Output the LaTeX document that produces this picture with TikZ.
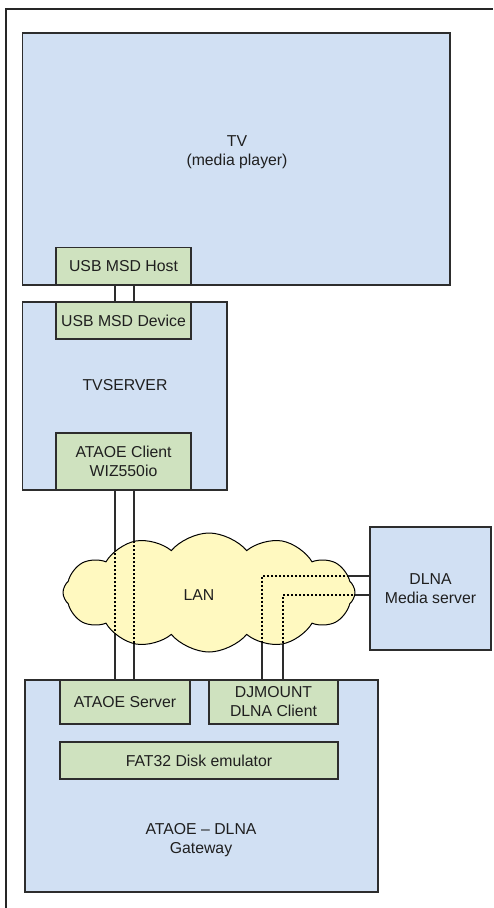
\documentclass[tikz,border=0pt]{standalone}
\usepackage{fontspec}
\setmainfont{Liberation Sans}
\usepackage{tikz}
\usetikzlibrary{shapes.symbols,calc,positioning}
\definecolor{BlokFon}{RGB}{209,224,243}
\definecolor{ModulFon}{RGB}{207,226,191}
\definecolor{OblakoFon}{RGB}{255,249,192}
\definecolor{Kontur}{RGB}{45,45,45}
\begin{document}
\begin{tikzpicture}[x=1pt,y=-1pt,
    every node/.style={font=\fontsize{15.8}{19}\selectfont,text=black!88,align=center},
    blok/.style={draw=Kontur,fill=BlokFon,line width=1.2pt,inner sep=0pt},
    modul/.style={draw=Kontur,fill=ModulFon,line width=1.2pt,inner sep=0pt,minimum height=37pt},
    svyaz/.style={draw=Kontur,line width=1.2pt},
    punktir/.style={draw=black,line width=1.1pt,dash pattern=on 2pt off 2pt}]
    \useasboundingbox (0,0) rectangle (493,908);
    \draw [draw=black!85,line width=1.2pt] (6,908) -- (6,9) -- (493,9);
    % TV
    \node [blok,minimum width=427.5pt,minimum height=252pt] (TvBox) at (236.25,159) {};
    \node (TvText) at (237,152) {TV\\(media player)};
    \node [modul,minimum width=135pt,minimum height=37.5pt] (UsbHost) at (123.5,266.25) {USB MSD Host};
    % TVSERVER
    \node [blok,minimum width=204.5pt,minimum height=188pt] (ServerBox) at (124.75,396) {};
    \node (ServerText) at (125,385) {TVSERVER};
    \node [modul,minimum width=135pt] (UsbDevice) at (123.5,320.5) {USB MSD Device};
    \node [modul,minimum width=135pt,minimum height=57pt] (AtaoeClient) at (123.5,461.5) {ATAOE Client\\WIZ550io};
    % gateway
    \node [blok,minimum width=353pt,minimum height=212pt] (GatewayBox) at (201.5,786) {};
    \node (GatewayText) at (201,840) {ATAOE -- DLNA\\Gateway};
    \node [modul,minimum width=130pt,minimum height=44pt] (AtaoeServer) at (125,702) {ATAOE Server};
    \node [modul,minimum width=129pt,minimum height=44pt] (Djmount) at (273.5,702) {DJMOUNT\\DLNA Client};
    \node [modul,minimum width=278pt] (Fat32) at (199,760.5) {FAT32 Disk emulator};
    \node [blok,minimum width=121pt,minimum height=123pt] (DlnaServer) at (430.5,588.5) {DLNA\\Media server};
    % links
    \foreach \dx in {-8.5,10.5}
        \draw [svyaz] ([xshift=\dx pt]UsbHost.south) -- ([xshift=\dx pt]UsbDevice.north);
    \foreach \dx in {-10,9}
        \draw [svyaz] ([xshift=\dx pt]AtaoeServer.north) -- ([xshift=\dx pt]AtaoeServer.north |- AtaoeClient.south);
    \draw [svyaz] ([yshift=12.5pt]DlnaServer.west) -| ([xshift=-11.5pt]Djmount.north);
    \draw [svyaz] ([yshift=-6.5pt]DlnaServer.west) -| ([xshift=9.5pt]Djmount.north);
    % LAN cloud, links dotted inside
    \node [cloud,cloud puffs=12,cloud puff arc=100,cloud ignores aspect,
        draw=black,line width=1pt,fill=OblakoFon,inner sep=0pt,
        minimum width=292pt,minimum height=119pt,
        path picture={
            \foreach \dx in {-10,9}
                \draw [punktir] ([xshift=\dx pt]AtaoeServer.north) -- ([xshift=\dx pt]AtaoeServer.north |- AtaoeClient.south);
            \draw [punktir] ([yshift=12.5pt]DlnaServer.west) -| ([xshift=-11.5pt]Djmount.north);
            \draw [punktir] ([yshift=-6.5pt]DlnaServer.west) -| ([xshift=9.5pt]Djmount.north);
        }] (Lan) at (209,592.5) {};
    \node (LanText) at (199,595) {LAN};
\end{tikzpicture}
\end{document}
